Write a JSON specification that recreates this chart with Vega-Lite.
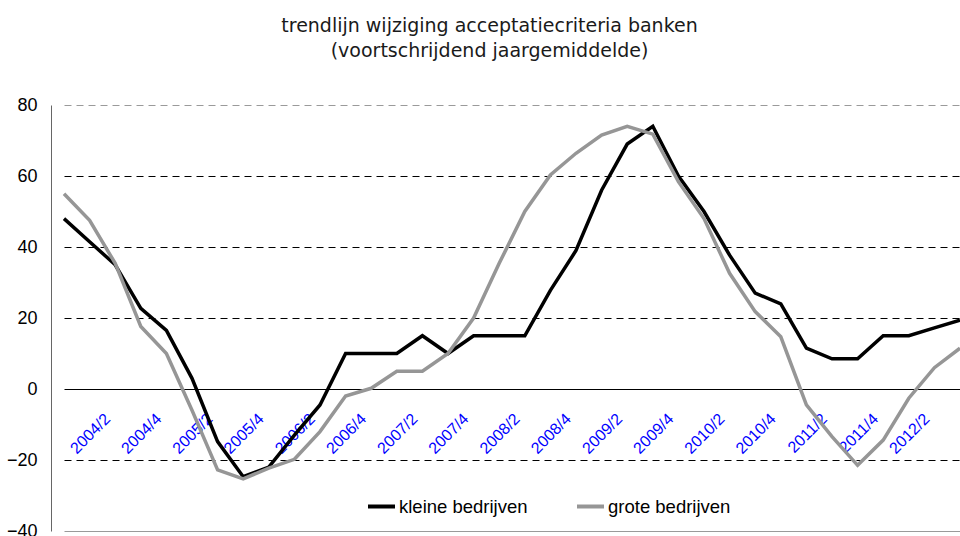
{
  "$schema": "https://vega.github.io/schema/vega-lite/v6.json",
  "width": 909,
  "height": 426,
  "autosize": {"type": "none"},
  "padding": {"left": 51, "top": 105, "right": 0, "bottom": 5},
  "background": "white",
  "title": {
    "text": ["trendlijn wijziging acceptatiecriteria banken", "(voortschrijdend jaargemiddelde)"],
    "font": "DejaVu Sans",
    "fontSize": 19,
    "fontWeight": "normal",
    "color": "#1a1a1a",
    "anchor": "middle",
    "dx": -16,
    "offset": 35,
    "lineHeight": 25
  },
  "config": {"view": {"stroke": null}},
  "data": {
    "values": [
      {"kwartaal": "2003/4", "reeks": "kleine bedrijven", "waarde": 48},
      {"kwartaal": "2004/1", "reeks": "kleine bedrijven", "waarde": 41.5},
      {"kwartaal": "2004/2", "reeks": "kleine bedrijven", "waarde": 35},
      {"kwartaal": "2004/3", "reeks": "kleine bedrijven", "waarde": 22.7},
      {"kwartaal": "2004/4", "reeks": "kleine bedrijven", "waarde": 16.5},
      {"kwartaal": "2005/1", "reeks": "kleine bedrijven", "waarde": 3},
      {"kwartaal": "2005/2", "reeks": "kleine bedrijven", "waarde": -14.8},
      {"kwartaal": "2005/3", "reeks": "kleine bedrijven", "waarde": -24.7},
      {"kwartaal": "2005/4", "reeks": "kleine bedrijven", "waarde": -22},
      {"kwartaal": "2006/1", "reeks": "kleine bedrijven", "waarde": -13},
      {"kwartaal": "2006/2", "reeks": "kleine bedrijven", "waarde": -4.5},
      {"kwartaal": "2006/3", "reeks": "kleine bedrijven", "waarde": 10},
      {"kwartaal": "2006/4", "reeks": "kleine bedrijven", "waarde": 10},
      {"kwartaal": "2007/1", "reeks": "kleine bedrijven", "waarde": 10},
      {"kwartaal": "2007/2", "reeks": "kleine bedrijven", "waarde": 15},
      {"kwartaal": "2007/3", "reeks": "kleine bedrijven", "waarde": 10},
      {"kwartaal": "2007/4", "reeks": "kleine bedrijven", "waarde": 15},
      {"kwartaal": "2008/1", "reeks": "kleine bedrijven", "waarde": 15},
      {"kwartaal": "2008/2", "reeks": "kleine bedrijven", "waarde": 15},
      {"kwartaal": "2008/3", "reeks": "kleine bedrijven", "waarde": 27.8},
      {"kwartaal": "2008/4", "reeks": "kleine bedrijven", "waarde": 39},
      {"kwartaal": "2009/1", "reeks": "kleine bedrijven", "waarde": 56},
      {"kwartaal": "2009/2", "reeks": "kleine bedrijven", "waarde": 69},
      {"kwartaal": "2009/3", "reeks": "kleine bedrijven", "waarde": 74},
      {"kwartaal": "2009/4", "reeks": "kleine bedrijven", "waarde": 60},
      {"kwartaal": "2010/1", "reeks": "kleine bedrijven", "waarde": 50},
      {"kwartaal": "2010/2", "reeks": "kleine bedrijven", "waarde": 37.7},
      {"kwartaal": "2010/3", "reeks": "kleine bedrijven", "waarde": 27},
      {"kwartaal": "2010/4", "reeks": "kleine bedrijven", "waarde": 24},
      {"kwartaal": "2011/1", "reeks": "kleine bedrijven", "waarde": 11.5},
      {"kwartaal": "2011/2", "reeks": "kleine bedrijven", "waarde": 8.5},
      {"kwartaal": "2011/3", "reeks": "kleine bedrijven", "waarde": 8.5},
      {"kwartaal": "2011/4", "reeks": "kleine bedrijven", "waarde": 15},
      {"kwartaal": "2012/1", "reeks": "kleine bedrijven", "waarde": 15},
      {"kwartaal": "2012/2", "reeks": "kleine bedrijven", "waarde": 17.2},
      {"kwartaal": "2012/3", "reeks": "kleine bedrijven", "waarde": 19.4},
      {"kwartaal": "2003/4", "reeks": "grote bedrijven", "waarde": 55},
      {"kwartaal": "2004/1", "reeks": "grote bedrijven", "waarde": 47.5},
      {"kwartaal": "2004/2", "reeks": "grote bedrijven", "waarde": 35.4},
      {"kwartaal": "2004/3", "reeks": "grote bedrijven", "waarde": 17.6},
      {"kwartaal": "2004/4", "reeks": "grote bedrijven", "waarde": 10},
      {"kwartaal": "2005/1", "reeks": "grote bedrijven", "waarde": -6},
      {"kwartaal": "2005/2", "reeks": "grote bedrijven", "waarde": -22.8},
      {"kwartaal": "2005/3", "reeks": "grote bedrijven", "waarde": -25.3},
      {"kwartaal": "2005/4", "reeks": "grote bedrijven", "waarde": -22.3},
      {"kwartaal": "2006/1", "reeks": "grote bedrijven", "waarde": -19.8},
      {"kwartaal": "2006/2", "reeks": "grote bedrijven", "waarde": -12},
      {"kwartaal": "2006/3", "reeks": "grote bedrijven", "waarde": -2},
      {"kwartaal": "2006/4", "reeks": "grote bedrijven", "waarde": 0.2},
      {"kwartaal": "2007/1", "reeks": "grote bedrijven", "waarde": 5},
      {"kwartaal": "2007/2", "reeks": "grote bedrijven", "waarde": 5},
      {"kwartaal": "2007/3", "reeks": "grote bedrijven", "waarde": 10},
      {"kwartaal": "2007/4", "reeks": "grote bedrijven", "waarde": 20},
      {"kwartaal": "2008/1", "reeks": "grote bedrijven", "waarde": 35.4},
      {"kwartaal": "2008/2", "reeks": "grote bedrijven", "waarde": 50},
      {"kwartaal": "2008/3", "reeks": "grote bedrijven", "waarde": 60.3},
      {"kwartaal": "2008/4", "reeks": "grote bedrijven", "waarde": 66.4},
      {"kwartaal": "2009/1", "reeks": "grote bedrijven", "waarde": 71.5},
      {"kwartaal": "2009/2", "reeks": "grote bedrijven", "waarde": 74},
      {"kwartaal": "2009/3", "reeks": "grote bedrijven", "waarde": 71.8},
      {"kwartaal": "2009/4", "reeks": "grote bedrijven", "waarde": 58.4},
      {"kwartaal": "2010/1", "reeks": "grote bedrijven", "waarde": 48},
      {"kwartaal": "2010/2", "reeks": "grote bedrijven", "waarde": 32.6},
      {"kwartaal": "2010/3", "reeks": "grote bedrijven", "waarde": 21.8},
      {"kwartaal": "2010/4", "reeks": "grote bedrijven", "waarde": 14.7},
      {"kwartaal": "2011/1", "reeks": "grote bedrijven", "waarde": -4.5},
      {"kwartaal": "2011/2", "reeks": "grote bedrijven", "waarde": -13.4},
      {"kwartaal": "2011/3", "reeks": "grote bedrijven", "waarde": -21.5},
      {"kwartaal": "2011/4", "reeks": "grote bedrijven", "waarde": -14.4},
      {"kwartaal": "2012/1", "reeks": "grote bedrijven", "waarde": -2.6},
      {"kwartaal": "2012/2", "reeks": "grote bedrijven", "waarde": 6},
      {"kwartaal": "2012/3", "reeks": "grote bedrijven", "waarde": 11.5}
    ]
  },
  "mark": {"type": "line", "strokeWidth": 3.5},
  "encoding": {
    "x": {
      "field": "kwartaal",
      "type": "ordinal",
      "sort": null,
      "scale": {"type": "point", "range": [13, 909], "padding": 0},
      "axis": {
        "title": null,
        "orient": "bottom",
        "offset": -142,
        "domain": false,
        "ticks": false,
        "grid": false,
        "values": ["2004/2", "2004/4", "2005/2", "2005/4", "2006/2", "2006/4", "2007/2", "2007/4", "2008/2", "2008/4", "2009/2", "2009/4", "2010/2", "2010/4", "2011/2", "2011/4", "2012/2"],
        "labelAngle": -45,
        "labelAlign": "right",
        "labelBaseline": "middle",
        "labelPadding": 27,
        "labelOffset": -8,
        "labelColor": "#0000ff",
        "labelFont": "Liberation Sans",
        "labelFontSize": 16,
        "labelOverlap": false
      }
    },
    "y": {
      "field": "waarde",
      "type": "quantitative",
      "scale": {"domain": [-40, 80], "nice": false, "zero": false},
      "axis": {
        "title": null,
        "values": [-40, -20, 0, 20, 40, 60, 80],
        "domain": true,
        "domainColor": "#666666",
        "ticks": false,
        "labelPadding": 14,
        "labelFont": "Liberation Sans",
        "labelFontSize": 18,
        "labelColor": "#000000",
        "grid": true,
        "gridWidth": 1,
        "gridColor": {"condition": {"test": "datum.value == -40 || datum.value == 80", "value": "#9a9a9a"}, "value": "#000000"},
        "gridDash": {"condition": {"test": "datum.value == 0 || datum.value == -40", "value": []}, "value": [7, 5]}
      }
    },
    "color": {
      "field": "reeks",
      "type": "nominal",
      "sort": ["kleine bedrijven", "grote bedrijven"],
      "scale": {"domain": ["kleine bedrijven", "grote bedrijven"], "range": ["#000000", "#969696"]},
      "legend": {
        "title": null,
        "orient": "none",
        "legendX": 315,
        "legendY": 386,
        "direction": "horizontal",
        "padding": 0,
        "symbolType": "stroke",
        "symbolSize": 729,
        "symbolStrokeWidth": 4,
        "labelFont": "Liberation Sans",
        "labelFontSize": 18.5,
        "labelColor": "#000000",
        "labelOffset": 2,
        "columnPadding": 41
      }
    }
  }
}
